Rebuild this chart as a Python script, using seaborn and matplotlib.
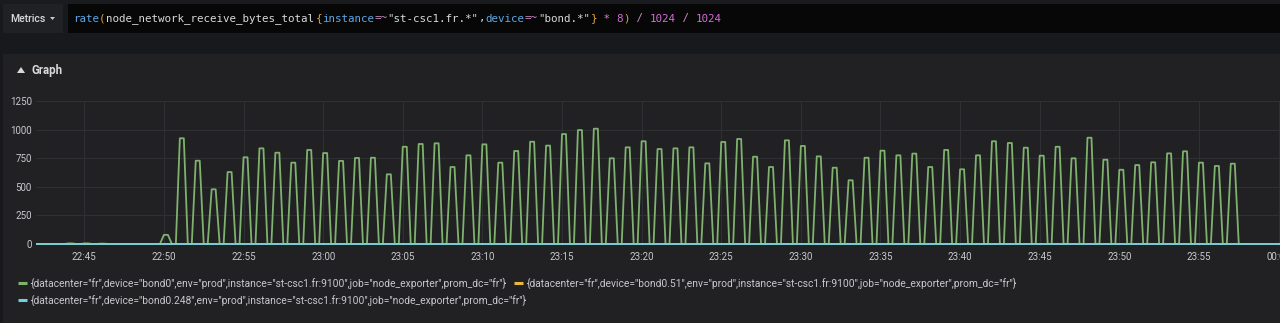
import numpy as np
import pandas as pd
import matplotlib
matplotlib.use("Agg")
import matplotlib.pyplot as plt
from matplotlib.patches import Rectangle, Polygon
from matplotlib.lines import Line2D
import seaborn as sns

# ---------------- data ----------------
# minutes after 22:40, one value per minute (peak value of that minute)
first_minute = 2
minute_values = [0, 0, 5, 5, 3, 0, 0, 0,          # 22:42 - 22:49
                 80,                               # 22:50
                 924, 728, 478, 629, 758, 836, 798, 711, 822, 795,
                 726, 752, 754, 609, 850, 874, 880, 673, 775, 871,
                 711, 813, 894, 860, 961, 996, 1008, 749, 845, 898,
                 830, 836, 845, 705, 892, 918, 763, 673, 906, 857,
                 766, 667, 557, 754, 816, 775, 790, 673, 822, 653,
                 775, 898, 883, 842, 772, 850, 749, 929, 737, 649,
                 690, 714, 792, 810, 711, 682, 702]
tick_minutes = [5, 10, 15, 20, 25, 30, 35, 40, 45, 50, 55, 60, 65, 70, 75, 80]
tick_labels = ["22:45", "22:50", "22:55", "23:00", "23:05", "23:10", "23:15", "23:20",
               "23:25", "23:30", "23:35", "23:40", "23:45", "23:50", "23:55", "00:00"]
y_ticks = [0, 250, 500, 750, 1000, 1250]
series_names = [
    '{datacenter="fr",device="bond0",env="prod",instance="st-csc1.fr:9100",job="node_exporter",prom_dc="fr"}',
    '{datacenter="fr",device="bond0.51",env="prod",instance="st-csc1.fr:9100",job="node_exporter",prom_dc="fr"}',
    '{datacenter="fr",device="bond0.248",env="prod",instance="st-csc1.fr:9100",job="node_exporter",prom_dc="fr"}',
]
series_colors = ["#7eb26d", "#eab839", "#6ed0e0"]

# 15 s samples; each minute's value held for two samples (Prometheus rate steps)
step = 0.25
t_all = np.arange(1.75, 80.5, step)
green_end = 78.0
rows = []
for t in t_all:
    m = int(np.floor(t + 1e-9))
    off = round(t - m, 2)
    idx = m - first_minute
    v = 0.0
    if 0 <= idx < len(minute_values) and off in (0.0, 0.25):
        v = float(minute_values[idx])
    if t <= green_end:
        rows.append((t, v, series_names[0]))
    rows.append((t, 0.0, series_names[1]))
    rows.append((t, 0.0, series_names[2]))
df = pd.DataFrame(rows, columns=["minute", "value", "series"])

# ---------------- figure ----------------
W, H = 1280, 323
sns.set_theme(style="dark")
plt.rcParams["font.family"] = ["Roboto", "DejaVu Sans"]

fig = plt.figure(figsize=(W / 100, H / 100), dpi=100)
fig.patch.set_facecolor("#18191c")

def fx(x): return x / W
def fy(y): return 1 - y / H

def rect_px(x0, y0, x1, y1, color):
    fig.patches.append(Rectangle((fx(x0), fy(y1)), fx(x1) - fx(x0), fy(y0) - fy(y1),
                                 transform=fig.transFigure, facecolor=color,
                                 edgecolor="none", zorder=-10))

rect_px(0, 0, W, 4, "#1a1b1e")
rect_px(3, 4, 63, 33, "#202125")
rect_px(68, 4, W, 33, "#070708")
rect_px(3, 54, W, H, "#212124")

# Metrics button
fig.text(fx(10), fy(18.5), "Metrics", color="#d8d9da", fontsize=7.6, fontweight="medium",
         va="center", ha="left", family=["Roboto", "DejaVu Sans"])
fig.patches.append(Polygon([(fx(50), fy(17)), (fx(55), fy(17)), (fx(52.5), fy(20))],
                           closed=True, transform=fig.transFigure, facecolor="#c8c9ca",
                           edgecolor="none"))

# query text (monospace, token colouring)
blue, orange, txt, op, num = "#5ea8e6", "#e0a23e", "#d8d9da", "#c98cc0", "#d16fd4"
tokens = [("rate", blue), ("(", orange), ("node_network_receive_bytes_total", txt),
          ("{", orange), ("instance", blue), ("=~", op), ('"st-csc1.fr.*"', txt),
          (",", txt), ("device", blue), ("=~", op), ('"bond.*"', txt), ("}", orange),
          (" * ", op), ("8", num), (")", orange), (" / ", op), ("1024", num),
          (" / ", op), ("1024", num)]
adv = 6.55
pos = 0
for tok, col in tokens:
    fig.text(fx(73 + pos * adv), fy(18.5), tok, color=col, fontsize=adv / 0.602 * 0.72,
             family="DejaVu Sans Mono", va="center", ha="left")
    pos += len(tok)

# Graph header
fig.patches.append(Polygon([(fx(17), fy(73)), (fx(25), fy(73)), (fx(21), fy(67))],
                           closed=True, transform=fig.transFigure, facecolor="#d8d9da",
                           edgecolor="none"))
fig.text(fx(32), fy(70), "Graph", color="#d8d9da", fontsize=8.3, fontweight="bold",
         va="center", ha="left")

# ---------------- axes ----------------
y_pad = 17.5
ax = fig.add_axes([fx(36), fy(246), fx(W) - fx(36), fy(101) - fy(246)])
ax.set_facecolor("#212124")
sns.lineplot(data=df, x="minute", y="value", hue="series", hue_order=series_names,
             palette=series_colors, estimator=None, linewidth=1.3, legend=False, ax=ax)
ax.set_xlim(1.967, 80.09)
ax.set_ylim(-y_pad, 1250)
ax.set_xticks(tick_minutes)
ax.set_xticklabels(tick_labels)
ax.set_yticks(y_ticks)
ax.set_yticklabels([str(v) for v in y_ticks])
ax.tick_params(axis="both", length=0, colors="#c7c9cc", labelsize=7)
ax.tick_params(axis="x", pad=4)
ax.tick_params(axis="y", pad=3)
ax.grid(True, color="#303135", linewidth=0.7)
ax.set_axisbelow(True)
for s in ax.spines.values():
    s.set_visible(False)
ax.set_xlabel("")
ax.set_ylabel("")

# ---------------- legend ----------------
legend_items = [(18, 283, 31, 0), (514, 283, 527, 1), (18, 300, 31, 2)]
target_w = 474.0
probe = fig.text(0, 0, series_names[0], fontsize=10, family=["Roboto", "DejaVu Sans"])
fig.canvas.draw()
w10 = probe.get_window_extent().width
probe.remove()
leg_fs = 10 * target_w / w10
for mx, my, tx, i in legend_items:
    fig.lines.append(Line2D([fx(mx), fx(mx + 9)], [fy(my), fy(my)], transform=fig.transFigure,
                            color=series_colors[i], linewidth=2.2, solid_capstyle="butt"))
    fig.text(fx(tx), fy(my), series_names[i], color="#c7c9cc", fontsize=leg_fs,
             va="center", ha="left", family=["Roboto", "DejaVu Sans"])

fig.savefig("out.png", dpi=100, facecolor=fig.get_facecolor())
